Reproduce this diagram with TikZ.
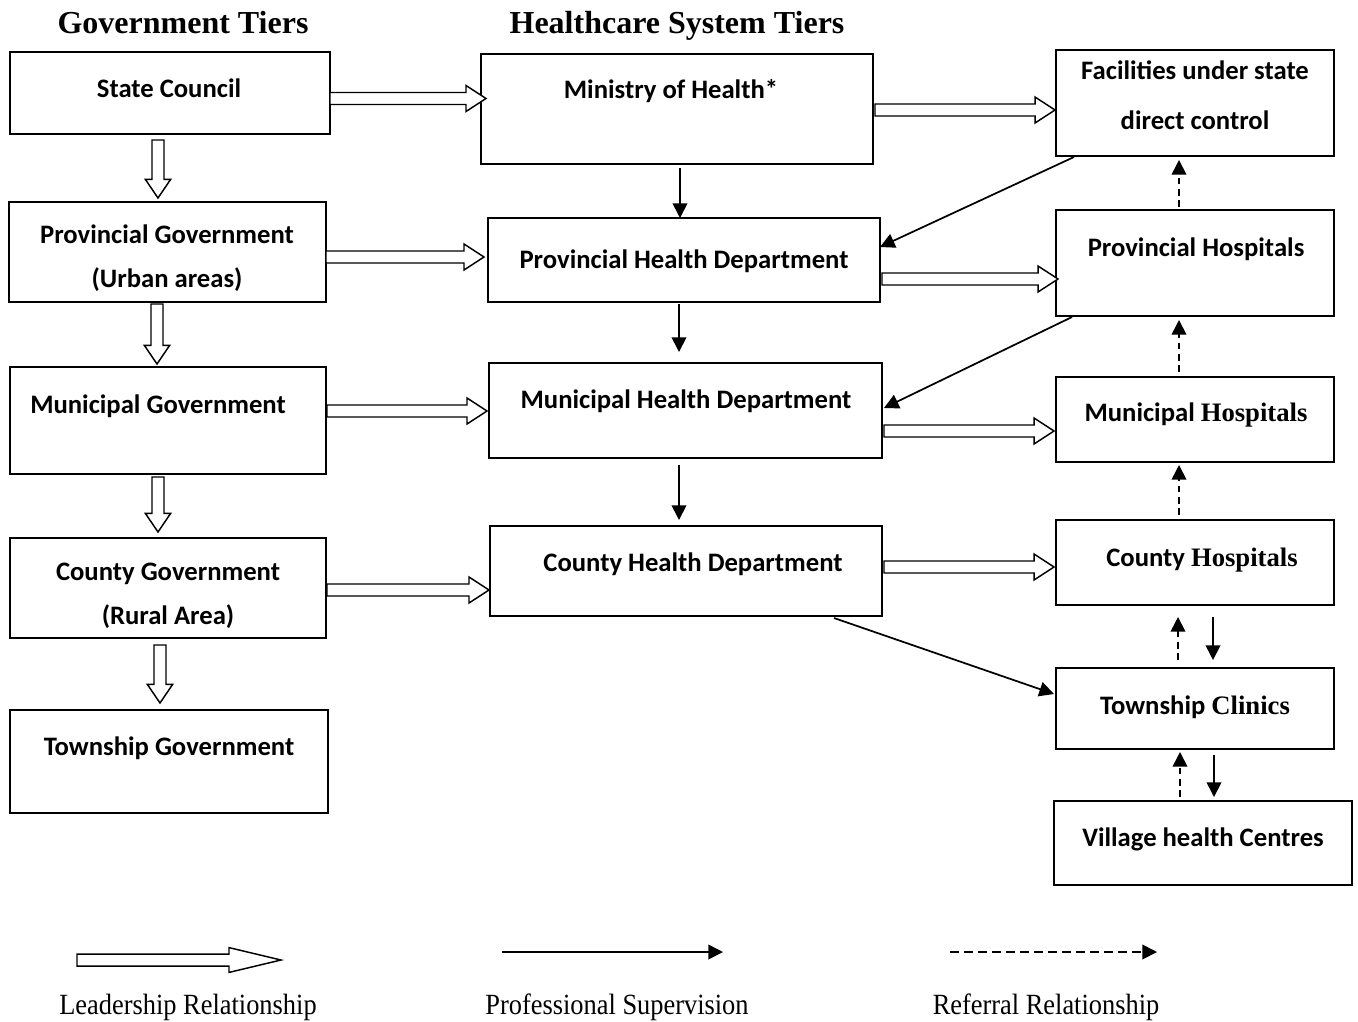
\documentclass[tikz,border=0pt]{standalone}
\usepackage{fontspec}
\setmainfont{Liberation Serif}
\newfontfamily\calfont{Carlito}
\usetikzlibrary{arrows.meta,calc,fit}

\tikzset{
  box/.style={draw, line width=1.3pt, inner sep=0pt, outer sep=0pt},
  lbl/.style={font=\calfont\bfseries\fontsize{20}{24}\selectfont,
              inner sep=0pt, text height=13pt, text depth=0pt},
  tierhead/.style={font=\bfseries\fontsize{24}{28}\selectfont, inner sep=0pt,
              text height=16pt, text depth=0pt},
  lead/.style={draw, line width=1.1pt, fill=white, line join=miter},
  sup/.style={line width=1.3pt, -{Triangle[length=11pt,width=11pt]}},
  referral/.style={sup, dash pattern=on 5pt off 3.5pt},
  legtext/.style={font=\fontsize{22}{26}\selectfont, inner sep=0pt}
}

% hollow block arrow from #1 to #2, head length #3, head half width #4
\newcommand\blockarrow[4]{%
  \path[lead] let \p1=#1, \p2=#2,
      \n1={atan2(\y2-\y1,\x2-\x1)},
      \n2={veclen(\x2-\x1,\y2-\y1)} in
    [shift={(\p1)}, rotate=\n1]
    (0pt,4.5pt) -- (\n2-#3,4.5pt) -- (\n2-#3,#4) -- (\n2,0pt)
    -- (\n2-#3,-#4) -- (\n2-#3,-4.5pt) -- (0pt,-4.5pt) -- cycle;}

\begin{document}
\begin{tikzpicture}[x=0.75pt,y=-0.75pt]
\useasboundingbox (0,0) rectangle (1358,1021);

% column headings
\node[tierhead] (h1) at (183,23) {Government Tiers};
\node[tierhead] (h2) at (677,23) {Healthcare System Tiers};

% government tiers
\node[box, fit={(10,52) (330,134)}] (sc) {};
\node[box, fit={(9,202) (326,302)}] (pg) {};
\node[box, fit={(10,367) (326,474)}] (mg) {};
\node[box, fit={(10,538) (326,638)}] (cg) {};
\node[box, fit={(10,710) (328,813)}] (tg) {};

% health departments
\node[box, fit={(481,54) (873,164)}] (moh) {};
\node[box, fit={(488,218) (880,302)}] (phd) {};
\node[box, fit={(489,363) (882,458)}] (mhd) {};
\node[box, fit={(490,526) (882,616)}] (chd) {};

% facilities
\node[box, fit={(1056,50) (1334,156)}] (fac) {};
\node[box, fit={(1056,210) (1334,316)}] (ph) {};
\node[box, fit={(1056,377) (1334,462)}] (mh) {};
\node[box, fit={(1056,520) (1334,605)}] (ch) {};
\node[box, fit={(1056,668) (1334,749)}] (tc) {};
\node[box, fit={(1054,801) (1352,885)}] (vc) {};

% box texts
\node[lbl] (sc-t) at (169,89) {State Council};
\node[lbl] (pg-t) at (167,235) {Provincial Government};
\node[lbl] (pg-t2) at (167,279) {(Urban areas)};
\node[lbl] (mg-t) at (158,405) {Municipal Government};
\node[lbl] (cg-t) at (168,572) {County Government};
\node[lbl] (cg-t2) at (168,616) {(Rural Area)};
\node[lbl] (tg-t) at (169,747) {Township Government};

\node[lbl] (moh-t) at (671,90) {Ministry of Health*};
\node[lbl] (phd-t) at (684,260) {Provincial Health Department};
\node[lbl] (mhd-t) at (686,400) {Municipal Health Department};
\node[lbl] (chd-t) at (693,563) {County Health Department};

\node[lbl] (fac-t) at (1195,71) {Facilities under state};
\node[lbl] (fac-t2) at (1195,121) {direct control};
\node[lbl] (ph-t) at (1196,248) {Provincial Hospitals};
\node[lbl] (mh-t) at (1196,413) {Municipal {\rmfamily Hospitals}};
\node[lbl] (ch-t) at (1202,558) {County {\rmfamily Hospitals}};
\node[lbl] (tc-t) at (1195,706) {Township {\rmfamily Clinics}};
\node[lbl] (vc-t) at (1203,838) {Village health Centres};

% leadership: government chain
\blockarrow{($(sc.south west)+(148,6)$)}{($(pg.north west)+(149,-4)$)}{14pt}{9.5pt}
\blockarrow{($(pg.south west)+(148,2)$)}{($(mg.north west)+(147,-3)$)}{14pt}{9.5pt}
\blockarrow{($(mg.south west)+(148,3)$)}{($(cg.north west)+(148,-6)$)}{14pt}{9.5pt}
\blockarrow{($(cg.south west)+(150,7)$)}{($(tg.north west)+(150,-7)$)}{14pt}{9.5pt}

% leadership: government to health departments
\blockarrow{($(sc.north east)+(0,46.5)$)}{($(moh.north west)+(5,44.5)$)}{15pt}{9.75pt}
\blockarrow{($(pg.north east)+(0,55)$)}{($(phd.north west)+(-4,39)$)}{15pt}{9.75pt}
\blockarrow{($(mg.north east)+(1,44)$)}{($(mhd.north west)+(-2,48)$)}{15pt}{9.75pt}
\blockarrow{($(cg.north east)+(1,52)$)}{($(chd.north west)+(-1,64)$)}{15pt}{9.75pt}

% leadership: health departments to facilities
\blockarrow{($(moh.north east)+(2,56)$)}{($(fac.north west)+(-1,60)$)}{15pt}{9.75pt}
\blockarrow{($(phd.north east)+(2,61)$)}{($(ph.north west)+(2,69)$)}{15pt}{9.75pt}
\blockarrow{($(mhd.north east)+(2,68)$)}{($(mh.north west)+(-2,54)$)}{15pt}{9.75pt}
\blockarrow{($(chd.north east)+(2,41)$)}{($(ch.north west)+(-2,47)$)}{15pt}{9.75pt}

% professional supervision
\draw[sup] ($(moh.south west)+(199,4)$) -- ($(phd.north west)+(192,0)$);
\draw[sup] ($(phd.south west)+(191,2)$) -- ($(mhd.north west)+(190,-11)$);
\draw[sup] ($(mhd.south west)+(190,7)$) -- ($(chd.north west)+(189,-6)$);
\draw[sup] ($(fac.south west)+(18,1)$) -- ($(phd.north east)+(0,29)$);
\draw[sup] ($(ph.south west)+(16,1)$) -- ($(mhd.north east)+(2,45)$);
\draw[sup] ($(chd.south east)+(-48,2)$) -- ($(tc.north west)+(-2,26)$);
\draw[sup] ($(ch.south west)+(157,12)$) -- ($(tc.north west)+(157,-8)$);
\draw[sup] ($(tc.south west)+(158,6)$) -- ($(vc.north west)+(160,-4)$);

% referral
\draw[referral] ($(ph.north west)+(123,-3)$) -- ($(fac.south west)+(123,4)$);
\draw[referral] ($(mh.north west)+(123,-5)$) -- ($(ph.south west)+(123,4)$);
\draw[referral] ($(ch.north west)+(123,-5)$) -- ($(mh.south west)+(123,3)$);
\draw[referral] ($(tc.north west)+(122,-8)$) -- ($(ch.south west)+(122,12)$);
\draw[referral] ($(vc.north west)+(126,-4)$) -- ($(tc.south west)+(124,3)$);

% legend
\coordinate (l1a) at (77,960);  \coordinate (l1b) at (281,960);
\coordinate (l2a) at (502,952); \coordinate (l2b) at (723,952);
\coordinate (l3a) at (950,952); \coordinate (l3b) at (1157,952);
\blockarrow{(l1a)}{(l1b)}{39pt}{9.3pt}
\draw[sup] (l2a) -- (l2b);
\draw[sup, dash pattern=on 6.5pt off 4pt] (l3a) -- (l3b);
\node[legtext] (leg1) at (188,1007) {\scalebox{0.9}[1]{Leadership Relationship}};
\node[legtext] (leg2) at (617,1007) {\scalebox{0.9}[1]{Professional Supervision}};
\node[legtext] (leg3) at (1046,1007) {\scalebox{0.9}[1]{Referral Relationship}};
\end{tikzpicture}
\end{document}
